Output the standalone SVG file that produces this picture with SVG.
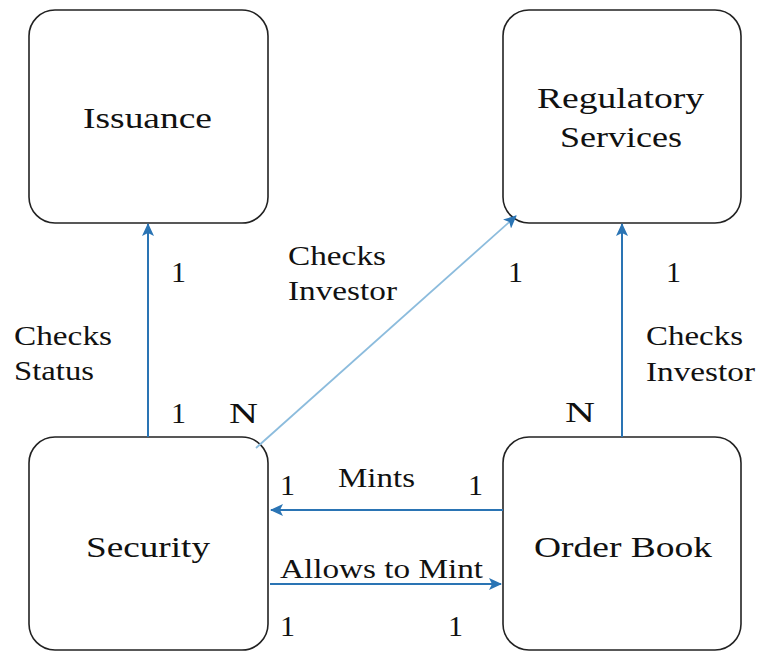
<svg xmlns="http://www.w3.org/2000/svg" width="758" height="653" viewBox="0 0 758 653">
<style>
.box{fill:#fff;stroke:#222;stroke-width:1.6}
.t{font-family:"Liberation Serif","Times New Roman",serif;font-size:30px;fill:#111}
.l{font-family:"Liberation Serif","Times New Roman",serif;font-size:28px;fill:#111}
.c{fill:none;stroke:#2a74b4;stroke-width:2}
.d{fill:none;stroke:#8cbcdd;stroke-width:1.8}
</style>
<defs>
<marker id="ah" markerUnits="userSpaceOnUse" markerWidth="14" markerHeight="12" refX="12" refY="6" orient="auto">
<path d="M0,0 L13,6 L0,12 L3,6 z" fill="#2a74b4"/>
</marker>
</defs>
<rect width="758" height="653" fill="#fff"/>
<g id="issuance"><rect class="box" x="29" y="10" width="239" height="213" rx="26"/><text class="t" x="83" y="128" textLength="129" lengthAdjust="spacingAndGlyphs">Issuance</text></g>
<g id="regulatory"><rect class="box" x="503" y="10" width="238" height="213" rx="26"/><text class="t" x="537" y="108" textLength="167" lengthAdjust="spacingAndGlyphs">Regulatory</text><text class="t" x="560" y="147" textLength="122" lengthAdjust="spacingAndGlyphs">Services</text></g>
<g id="security"><rect class="box" x="29" y="437" width="239" height="213" rx="26"/><text class="t" x="86" y="557" textLength="124" lengthAdjust="spacingAndGlyphs">Security</text></g>
<g id="orderbook"><rect class="box" x="503" y="437" width="238" height="213" rx="26"/><text class="t" x="534" y="557" textLength="178" lengthAdjust="spacingAndGlyphs">Order Book</text></g>
<g id="connectors">
<line class="c" x1="148" y1="437" x2="148" y2="224" marker-end="url(#ah)"/>
<line class="d" x1="256" y1="448" x2="516" y2="216" marker-end="url(#ah)"/>
<line class="c" x1="622" y1="437" x2="622" y2="224" marker-end="url(#ah)"/>
<line class="c" x1="503" y1="510" x2="271" y2="510" marker-end="url(#ah)"/>
<line class="c" x1="270" y1="584" x2="501" y2="584" marker-end="url(#ah)"/>
</g>
<g id="labels">
<text class="l" x="14" y="345" textLength="98" lengthAdjust="spacingAndGlyphs">Checks</text>
<text class="l" x="14" y="380" textLength="80" lengthAdjust="spacingAndGlyphs">Status</text>
<text class="t" x="171" y="282">1</text>
<text class="t" x="171" y="423">1</text>
<text class="t" x="229" y="423" textLength="29" lengthAdjust="spacingAndGlyphs">N</text>
<text class="l" x="288" y="265" textLength="98" lengthAdjust="spacingAndGlyphs">Checks</text>
<text class="l" x="288" y="300" textLength="109" lengthAdjust="spacingAndGlyphs">Investor</text>
<text class="t" x="508" y="282">1</text>
<text class="t" x="666" y="282">1</text>
<text class="l" x="646" y="345" textLength="97" lengthAdjust="spacingAndGlyphs">Checks</text>
<text class="l" x="646" y="381" textLength="109" lengthAdjust="spacingAndGlyphs">Investor</text>
<text class="t" x="565" y="422" textLength="30" lengthAdjust="spacingAndGlyphs">N</text>
<text class="t" x="280" y="495">1</text>
<text class="l" x="338" y="487" textLength="77" lengthAdjust="spacingAndGlyphs">Mints</text>
<text class="t" x="468" y="495">1</text>
<text class="l" x="280" y="578" textLength="203" lengthAdjust="spacingAndGlyphs">Allows to Mint</text>
<text class="t" x="280" y="636">1</text>
<text class="t" x="448" y="636">1</text>
</g>
</svg>
